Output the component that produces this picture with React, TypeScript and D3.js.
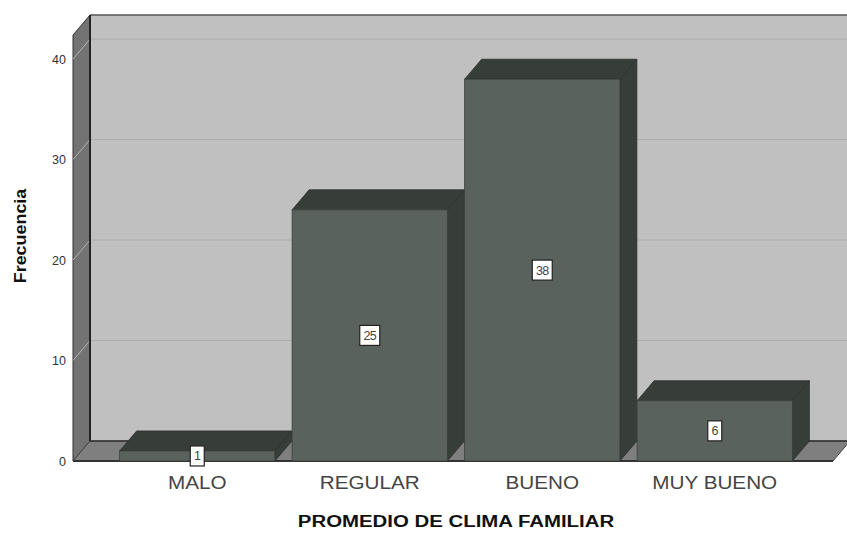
import React from 'react';
import * as d3 from 'd3';

const categories = ['MALO', 'REGULAR', 'BUENO', 'MUY BUENO'];
const frequencies = [1, 25, 38, 6];
const yTicks = [0, 10, 20, 30, 40];

const W = 847;
const H = 533;
const DX = 17;
const DY = -20;

export default function App() {
  const x = d3.scaleBand<string>()
    .domain(categories)
    .range([111, 801])
    .paddingInner(0.1)
    .paddingOuter(0.05);
  const y = d3.scaleLinear().domain([0, 42.4]).range([461, 35]);

  const left = 73;
  const right = 833;
  const y0 = y(0);
  const yTop = y(42.4);
  const poly = (pts: [number, number][]) => pts.map(p => p.join(',')).join(' ');

  return (
    <svg width={W} height={H} style={{ position: 'absolute', left: 0, top: 0, background: '#fff' }}
      fontFamily="'Liberation Sans', Arial, sans-serif">
      {/* back wall */}
      <rect x={left + DX} y={yTop + DY} width={right - left} height={y0 - yTop} fill="#c0c0c0" />
      {yTicks.filter(t => t > 0).map(t => (
        <line key={t} x1={left + DX} x2={right + DX} y1={y(t) + DY} y2={y(t) + DY} stroke="#adadad" strokeWidth={1} />
      ))}
      <line x1={left + DX} x2={right + DX + 20} y1={yTop + DY} y2={yTop + DY} stroke="#555" strokeWidth={1.5} />
      {/* left wall */}
      <polygon points={poly([[left, y0], [left, yTop], [left + DX, yTop + DY], [left + DX, y0 + DY]])}
        fill="#737373" stroke="#333" strokeWidth={1} />
      {yTicks.filter(t => t > 0).map(t => (
        <line key={t} x1={left} x2={left + DX} y1={y(t)} y2={y(t) + DY} stroke="#b4b4b4" strokeWidth={1} />
      ))}
      <line x1={left + DX} x2={left + DX} y1={yTop + DY} y2={y0 + DY} stroke="#222" strokeWidth={2} />
      {/* floor */}
      <polygon points={poly([[left, y0], [right, y0], [right + DX, y0 + DY], [left + DX, y0 + DY]])}
        fill="#7f7f7f" stroke="#444" strokeWidth={1} />
      <line x1={left + DX} x2={right + DX} y1={y0 + DY} y2={y0 + DY} stroke="#333" strokeWidth={1.5} />
      <line x1={left} x2={right} y1={y0} y2={y0} stroke="#333" strokeWidth={2} />

      {/* bars */}
      {categories.map((c, i) => {
        const x0 = x(c)!;
        const x1 = x0 + x.bandwidth();
        const yt = y(frequencies[i]);
        return (
          <g key={c}>
            <polygon points={poly([[x0, yt], [x1, yt], [x1 + DX, yt + DY], [x0 + DX, yt + DY]])}
              fill="#373d38" stroke="#2b302c" strokeWidth={0.8} />
            <polygon points={poly([[x1, yt], [x1 + DX, yt + DY], [x1 + DX, y0 + DY], [x1, y0]])}
              fill="#373d38" stroke="#2b302c" strokeWidth={0.8} />
            <rect x={x0} y={yt} width={x.bandwidth()} height={y0 - yt} fill="#59625d" stroke="#3a403c" strokeWidth={0.8} />
          </g>
        );
      })}

      {/* value labels */}
      {categories.map((c, i) => {
        const cx = x(c)! + x.bandwidth() / 2;
        const cy = (y(frequencies[i]) + y0) / 2;
        const label = String(frequencies[i]);
        const bw = label.length * 6 + 8;
        return (
          <g key={c}>
            <rect x={cx - bw / 2} y={cy - 10} width={bw} height={20} fill="#fff" stroke="#222" strokeWidth={1.2} />
            <text x={cx} y={cy + 4.5} textAnchor="middle" fontSize={12.5} letterSpacing={-0.6} fill="#444">{label}</text>
          </g>
        );
      })}

      {/* y tick labels */}
      {yTicks.map(t => (
        <text key={t} x={66} y={y(t) + 4.5} textAnchor="end" fontSize={12.5} fill="#333">{t}</text>
      ))}

      {/* category labels */}
      {categories.map(c => (
        <text key={c} transform={`translate(${x(c)! + x.bandwidth() / 2}, 489) scale(1.15, 1)`}
          textAnchor="middle" fontSize={18} fill="#444">{c}</text>
      ))}

      <text transform={`translate(26, 236) rotate(-90) scale(1.12, 1)`} textAnchor="middle" fontSize={16} fontWeight="bold" fill="#111">Frecuencia</text>
      <text transform={`translate(456, 527) scale(1.2, 1)`} textAnchor="middle" fontSize={17} fontWeight="bold" fill="#111">PROMEDIO DE CLIMA FAMILIAR</text>
    </svg>
  );
}
